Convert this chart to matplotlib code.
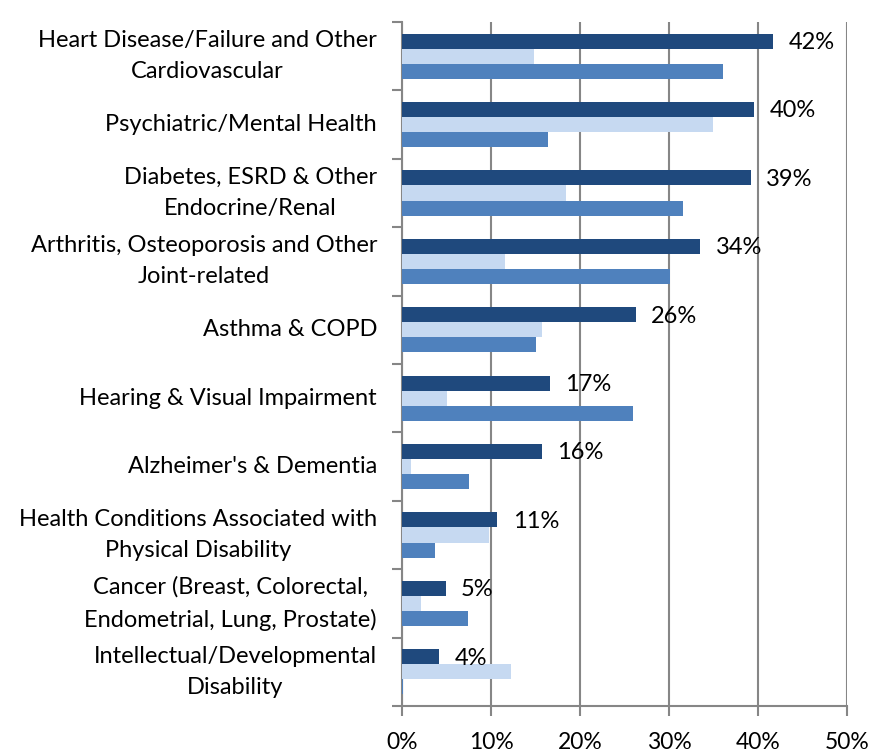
import numpy as np
from matplotlib import pyplot as plt
from matplotlib.ticker import FixedLocator, FuncFormatter

plt.rcParams['font.family'] = ['Lato', 'DejaVu Sans']

categories = [
    'Heart Disease/Failure and Other\nCardiovascular',
    'Psychiatric/Mental Health',
    'Diabetes, ESRD & Other\nEndocrine/Renal',
    'Arthritis, Osteoporosis and Other\nJoint-related',
    'Asthma & COPD',
    'Hearing & Visual Impairment',
    "Alzheimer's & Dementia",
    'Health Conditions Associated with\nPhysical Disability',
    'Cancer (Breast, Colorectal,\nEndometrial, Lung, Prostate)',
    'Intellectual/Developmental\nDisability',
]
dark_vals = [41.7, 39.6, 39.2, 33.5, 26.3, 16.6, 15.7, 10.7, 4.9, 4.2]
light_vals = [14.8, 34.9, 18.4, 11.6, 15.7, 5.1, 1.0, 9.8, 2.1, 12.2]
mid_vals = [36.1, 16.4, 31.6, 30.1, 15.1, 26.0, 7.5, 3.7, 7.45, 0.1]
dark_labels = ['42%', '40%', '39%', '34%', '26%', '17%', '16%', '11%', '5%', '4%']

dark_c = '#1F497D'
light_c = '#C6D9F1'
mid_c = '#4F81BD'
grid_c = '#868686'

fig = plt.figure(figsize=(8.73, 7.53), dpi=100)
ax = fig.add_axes([0.4605, 0.0624, 0.5097, 0.9084])

y = np.arange(len(categories))
h = 0.22
ax.barh(y - h, dark_vals, height=h, color=dark_c, zorder=3)
ax.barh(y, light_vals, height=h, color=light_c, zorder=3)
ax.barh(y + h, mid_vals, height=h, color=mid_c, zorder=3)

for yi, v, lab in zip(y, dark_vals, dark_labels):
    ax.annotate(lab, (v, yi - h), xytext=(11, -1), textcoords='offset points',
                va='center', ha='left', fontsize=17, color='black', zorder=4)

ax.set_xlim(0, 50)
ax.set_ylim(len(categories) - 0.5, -0.5)

ax.set_xticks(np.arange(0, 51, 10))
ax.xaxis.set_major_formatter(FuncFormatter(lambda v, p: '%d%%' % v))
ax.tick_params(axis='x', length=7, width=1.5, color=grid_c, pad=12, labelsize=16.5)
ax.grid(axis='x', color=grid_c, linewidth=1.5, zorder=0)

ax.set_yticks(y)
ax.set_yticklabels(categories, fontsize=17, multialignment='center',
                   linespacing=1.6, va='center')
ax.yaxis.set_minor_locator(FixedLocator(np.arange(-0.5, len(categories), 1)))
ax.tick_params(axis='y', which='major', length=0, pad=18)
ax.tick_params(axis='y', which='minor', length=7, width=1.5, color=grid_c)

for s in ['top', 'right']:
    ax.spines[s].set_visible(False)
for s in ['left', 'bottom']:
    ax.spines[s].set_color(grid_c)
    ax.spines[s].set_linewidth(1.5)

plt.savefig('out.png', dpi=100)
plt.close()
